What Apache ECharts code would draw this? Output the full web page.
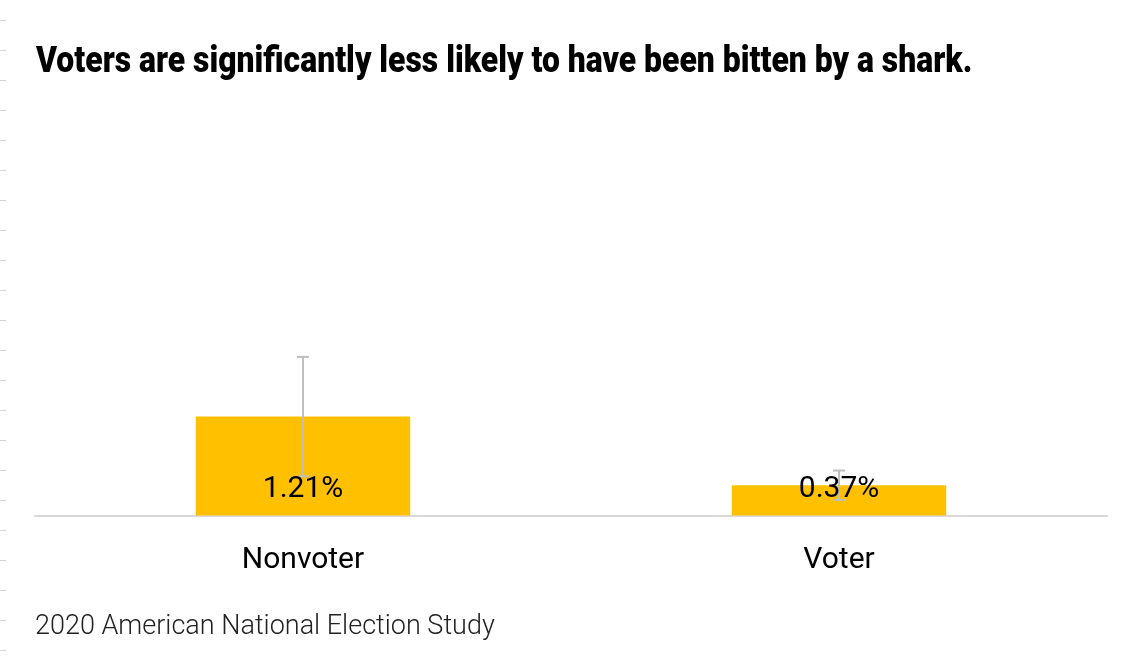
<!DOCTYPE html>
<html>
<head>
<meta charset="utf-8">
<script src="https://cdn.jsdelivr.net/npm/echarts@6/dist/echarts.min.js"></script>
<style>
  html, body { margin: 0; padding: 0; background: #fff; }
  #main { width: 1134px; height: 662px; }
</style>
</head>
<body>
<div id="main"></div>
<script>
// data
var categories = ['Nonvoter', 'Voter'];
var shareBitten = [1.21, 0.37];          // percent
var errorMargin = [0.73, 0.18];          // +/- percent
var rulerMarks = 21;                      // little grey dashes on the left edge

var titleText = 'Voters are significantly less likely to have been bitten by a shark.';
var sourceText = '2020 American National Election Study';

var chart = echarts.init(document.getElementById('main'));

var errorData = [];
for (var i = 0; i < categories.length; i++) {
	errorData.push([i, shareBitten[i] - errorMargin[i], shareBitten[i] + errorMargin[i]]);
}

function renderError(params, api) {
	var lo = api.coord([api.value(0), api.value(1)]);
	var hi = api.coord([api.value(0), api.value(2)]);
	var half = 6;
	var style = { stroke: '#bfbfbf', lineWidth: 2 };
	return {
		type: 'group',
		children: [
			{ type: 'line', shape: { x1: hi[0], y1: hi[1], x2: lo[0], y2: lo[1] }, style: style },
			{ type: 'line', shape: { x1: hi[0] - half, y1: hi[1], x2: hi[0] + half, y2: hi[1] }, style: style },
			{ type: 'line', shape: { x1: lo[0] - half, y1: lo[1], x2: lo[0] + half, y2: lo[1] }, style: style }
		]
	};
}

var option = {
	animation: false,
	backgroundColor: '#fff',
	// condensed heavy title: no condensed font installed, so squeeze Roboto bold
	graphic: [
		{
			type: 'text',
			x: 36,
			y: 63,
			scaleX: 0.862,
			style: {
				text: titleText,
				font: '900 37px Roboto',
				fill: '#000',
				align: 'left',
				verticalAlign: 'middle'
			}
		}
	],
	title: [
		{
			text: sourceText,
			left: 30,
			top: 609,
			textStyle: {
				fontFamily: 'Roboto',
				fontWeight: 300,
				fontSize: 27,
				color: '#222'
			}
		}
	],
	grid: [
		{ left: 35, right: 27, top: 352, bottom: 146.5 },
		// ruler dashes along the left edge
		{ left: 0, width: 6, top: 20.7, height: 630 }
	],
	xAxis: [
		{
			type: 'category',
			gridIndex: 0,
			data: categories,
			axisLine: { lineStyle: { color: '#d9d9d9', width: 2 } },
			axisTick: { show: false },
			axisLabel: {
				margin: 30,
				fontFamily: 'Roboto',
				fontSize: 30,
				color: '#000'
			}
		},
		{ type: 'value', gridIndex: 1, show: false }
	],
	yAxis: [
		{ type: 'value', gridIndex: 0, min: 0, max: 2, show: false },
		{
			type: 'value',
			gridIndex: 1,
			min: 0,
			max: rulerMarks,
			interval: 1,
			axisLine: { show: false },
			axisTick: { show: false },
			axisLabel: { show: false },
			splitLine: { show: true, lineStyle: { color: '#d4d4d4', width: 1 } }
		}
	],
	series: [
		{
			name: 'share',
			type: 'bar',
			data: shareBitten,
			barWidth: '40%',
			itemStyle: { color: '#ffc000' },
			z: 2
		},
		{
			name: 'error',
			type: 'custom',
			renderItem: renderError,
			data: errorData,
			encode: { x: 0, y: [1, 2] },
			z: 3
		},
		{
			name: 'labels',
			type: 'bar',
			data: shareBitten,
			barWidth: '40%',
			barGap: '-100%',
			itemStyle: { color: 'rgba(0,0,0,0)' },
			label: {
				show: true,
				position: 'insideBottom',
				distance: 11,
				formatter: function (p) { return p.value.toFixed(2) + '%'; },
				fontFamily: 'Roboto',
				fontSize: 30,
				color: '#000'
			},
			z: 10
		}
	]
};

chart.setOption(option);
</script>
</body>
</html>
